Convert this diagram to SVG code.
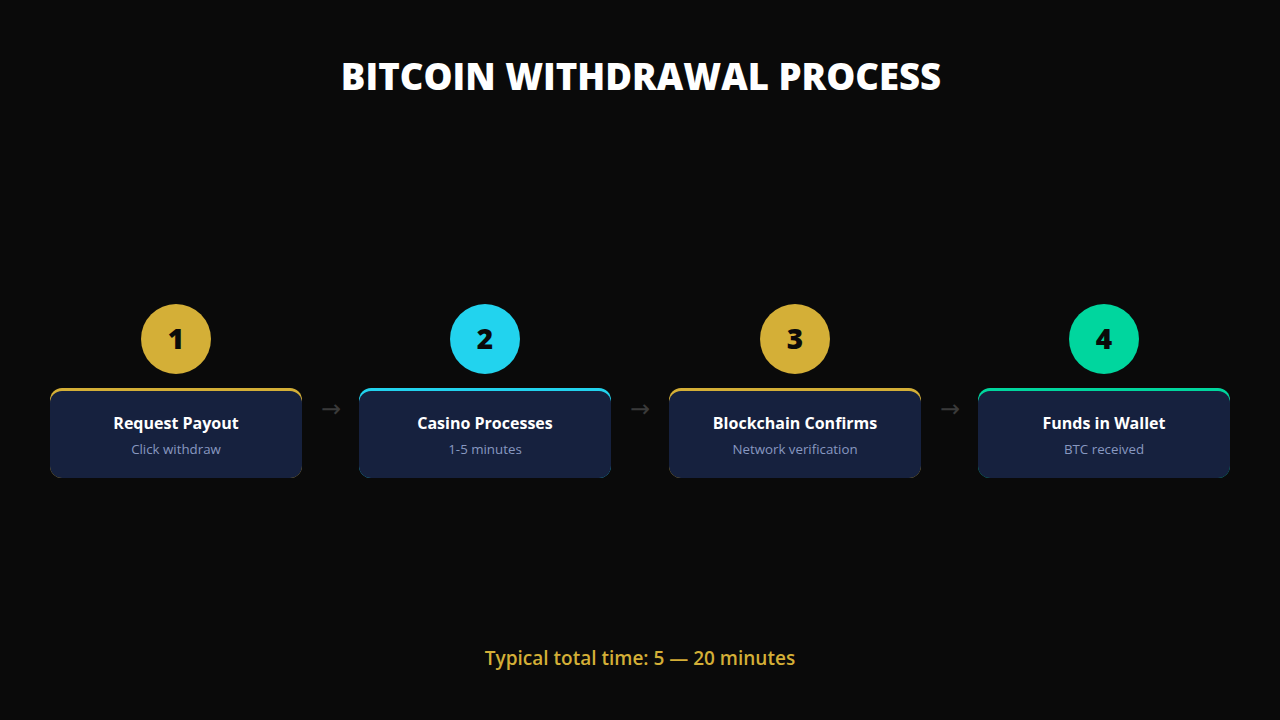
<svg xmlns="http://www.w3.org/2000/svg" width="1280" height="720" viewBox="0 0 1280 720">
<style>
.title{font-family:"Open Sans","Liberation Sans",sans-serif;font-weight:800;font-size:36.5px;fill:#ffffff;text-anchor:middle}
.num{font-family:"Open Sans","Liberation Sans",sans-serif;font-weight:800;font-size:28px;fill:#0a0a0a;text-anchor:middle}
.head{font-family:"Open Sans","Liberation Sans",sans-serif;font-weight:700;font-size:16px;fill:#ffffff;text-anchor:middle}
.sub{font-family:"Open Sans","Liberation Sans",sans-serif;font-size:13.3px;fill:#8898c0;text-anchor:middle}
.card{fill:#16213e}
.arrow{font-family:"DejaVu Sans","Liberation Sans",sans-serif;font-size:24px;fill:#3a3a3a;text-anchor:middle}
.foot{font-family:"Open Sans","Liberation Sans",sans-serif;font-weight:600;font-size:19px;fill:#d4af37;text-anchor:middle}
</style>
<rect width="1280" height="720" fill="#0a0a0a"/>
<text class="title" x="641" y="90">BITCOIN WITHDRAWAL PROCESS</text>
<g id="connectors">
<text class="arrow" x="331" y="417">→</text>
<text class="arrow" x="640" y="417">→</text>
<text class="arrow" x="950" y="417">→</text>
</g>
<g id="step1">
<circle cx="176" cy="339" r="35" fill="#d4af37"/>
<text class="num" x="176" y="349">1</text>
<rect x="50" y="388" width="252" height="90" rx="12" fill="#d4af37"/>
<rect class="card" x="50" y="391" width="252" height="87" rx="12"/>
<text class="head" x="176" y="429">Request Payout</text>
<text class="sub" x="176" y="454">Click withdraw</text>
</g>
<g id="step2">
<circle cx="485" cy="339" r="35" fill="#22d3ee"/>
<text class="num" x="485" y="349">2</text>
<rect x="359" y="388" width="252" height="90" rx="12" fill="#22d3ee"/>
<rect class="card" x="359" y="391" width="252" height="87" rx="12"/>
<text class="head" x="485" y="429">Casino Processes</text>
<text class="sub" x="485" y="454">1-5 minutes</text>
</g>
<g id="step3">
<circle cx="795" cy="339" r="35" fill="#d4af37"/>
<text class="num" x="795" y="349">3</text>
<rect x="669" y="388" width="252" height="90" rx="12" fill="#d4af37"/>
<rect class="card" x="669" y="391" width="252" height="87" rx="12"/>
<text class="head" x="795" y="429">Blockchain Confirms</text>
<text class="sub" x="795" y="454">Network verification</text>
</g>
<g id="step4">
<circle cx="1104" cy="339" r="35" fill="#00d69e"/>
<text class="num" x="1104" y="349">4</text>
<rect x="978" y="388" width="252" height="90" rx="12" fill="#00d69e"/>
<rect class="card" x="978" y="391" width="252" height="87" rx="12"/>
<text class="head" x="1104" y="429">Funds in Wallet</text>
<text class="sub" x="1104" y="454">BTC received</text>
</g>
<text class="foot" x="640" y="665">Typical total time: 5 — 20 minutes</text>
</svg>
